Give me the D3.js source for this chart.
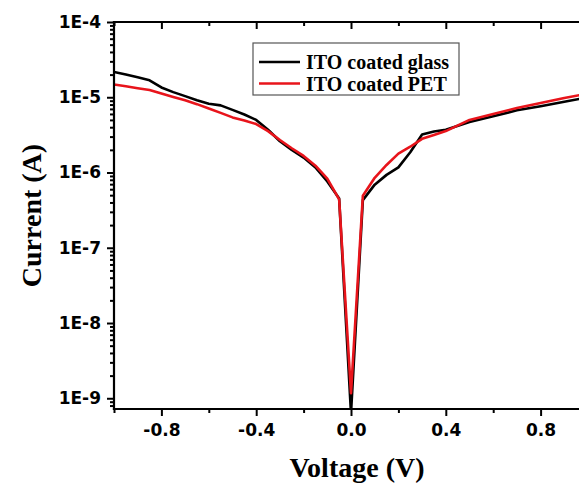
<!DOCTYPE html>
<html>
<head>
<meta charset="utf-8">
<script src="https://cdn.jsdelivr.net/npm/d3@7/dist/d3.min.js"></script>
<style>
  html, body { margin: 0; padding: 0; background: #fff; }
  svg { display: block; }
</style>
</head>
<body>
<script>
// ---- data ----
const voltage = [-1.0,-0.95,-0.9,-0.85,-0.8,-0.75,-0.7,-0.65,-0.6,-0.55,-0.5,-0.45,-0.4,-0.35,-0.3,-0.25,-0.2,-0.15,-0.1,-0.05,0,0.05,0.1,0.15,0.2,0.25,0.3,0.35,0.4,0.5,0.6,0.7,0.8,0.9,1.0];
const glassCurrent = [2.17e-5,2.0e-5,1.84e-5,1.68e-5,1.35e-5,1.17e-5,1.035e-5,9.1e-6,8.2e-6,7.8e-6,6.8e-6,5.9e-6,5.0e-6,3.7e-6,2.6e-6,2.0e-6,1.58e-6,1.17e-6,7.6e-7,4.5e-7,6.3e-10,4.3e-7,6.9e-7,9.3e-7,1.17e-6,1.86e-6,3.2e-6,3.5e-6,3.7e-6,4.7e-6,5.6e-6,6.7e-6,7.6e-6,8.7e-6,1.0e-5];
const petCurrent = [1.48e-5,1.40e-5,1.32e-5,1.245e-5,1.12e-5,1.01e-5,9.1e-6,8.1e-6,7.1e-6,6.2e-6,5.4e-6,4.9e-6,4.4e-6,3.55e-6,2.7e-6,2.1e-6,1.66e-6,1.23e-6,8.3e-7,4.4e-7,1.17e-9,4.9e-7,8.5e-7,1.26e-6,1.78e-6,2.2e-6,2.8e-6,3.15e-6,3.55e-6,5.0e-6,6.0e-6,7.2e-6,8.4e-6,9.8e-6,1.12e-5];
const seriesNames = ["ITO coated glass", "ITO coated PET"];
const seriesColors = ["#000000", "#e8141b"];
const xMajorTicks = [-0.8, -0.4, 0.0, 0.4, 0.8];
const xMinorTicks = [-1.0, -0.6, -0.2, 0.2, 0.6, 1.0];
const yMajorTicks = [1e-9, 1e-8, 1e-7, 1e-6, 1e-5, 1e-4];
const xTitle = "Voltage (V)";
const yTitle = "Current (A)";

// ---- layout ----
const W = 579, H = 486;
const mLeft = 114, mRight = 588, mTop = 22, mBottom = 409;

const svg = d3.select("body").append("svg").attr("width", W).attr("height", H);

const x = d3.scaleLinear().domain([-1, 1]).range([mLeft, mRight]);
const y = d3.scaleLog().domain([7.2e-10, 1e-4]).range([mBottom, mTop]);

// minor log ticks
const yMinorTicks = [];
for (let e = -10; e <= -5; e++) {
  for (let m = 2; m <= 9; m++) {
    const v = m * Math.pow(10, e);
    if (v >= y.domain()[0] && v <= y.domain()[1]) yMinorTicks.push(v);
  }
}

const fmtX = d => d3.format(".1f")(d).replace("−", "-");
const fmtY = d => "1E" + Math.round(Math.log10(d));

const tickFont = "'DejaVu Sans', sans-serif";

// clip
svg.append("defs").append("clipPath").attr("id", "clip")
  .append("rect").attr("x", mLeft).attr("y", mTop - 2).attr("width", mRight - mLeft).attr("height", mBottom - mTop + 2);

// lines
const line = d3.line().x((d, i) => x(voltage[i])).y(d => y(d));
const g = svg.append("g").attr("clip-path", "url(#clip)");
[glassCurrent, petCurrent].forEach((s, k) => {
  g.append("path").datum(s)
    .attr("d", line)
    .attr("fill", "none")
    .attr("stroke", seriesColors[k])
    .attr("stroke-width", 2.6)
    .attr("stroke-linejoin", "round");
});

function styleAxis(sel) {
  sel.select(".domain").remove();
  sel.selectAll(".tick line").attr("stroke", "#000").attr("stroke-width", 2);
}

// bottom axis
const bMajor = svg.append("g").attr("transform", `translate(0,${mBottom})`)
  .call(d3.axisBottom(x).tickValues(xMajorTicks).tickFormat(fmtX).tickSize(7).tickPadding(8));
styleAxis(bMajor);
bMajor.selectAll("text").attr("font-family", tickFont).attr("font-weight", "bold")
  .attr("font-size", "17px").attr("fill", "#000");
const bMinor = svg.append("g").attr("transform", `translate(0,${mBottom})`)
  .call(d3.axisBottom(x).tickValues(xMinorTicks).tickFormat("").tickSize(4));
styleAxis(bMinor);

// top axis (inward ticks)
const tMajor = svg.append("g").attr("transform", `translate(0,${mTop})`)
  .call(d3.axisBottom(x).tickValues(xMajorTicks).tickFormat("").tickSize(7));
styleAxis(tMajor);
const tMinor = svg.append("g").attr("transform", `translate(0,${mTop})`)
  .call(d3.axisBottom(x).tickValues(xMinorTicks).tickFormat("").tickSize(4));
styleAxis(tMinor);

// left axis
const lMajor = svg.append("g").attr("transform", `translate(${mLeft},0)`)
  .call(d3.axisLeft(y).tickValues(yMajorTicks).tickFormat(fmtY).tickSize(7).tickPadding(6));
styleAxis(lMajor);
lMajor.selectAll("text").attr("font-family", tickFont).attr("font-weight", "bold")
  .attr("font-size", "17px").attr("fill", "#000");
const lMinor = svg.append("g").attr("transform", `translate(${mLeft},0)`)
  .call(d3.axisLeft(y).tickValues(yMinorTicks).tickFormat("").tickSize(4));
styleAxis(lMinor);

// axis frame lines
const frame = [[mLeft, mBottom, mRight, mBottom], [mLeft, mTop, mRight, mTop], [mLeft, mTop, mLeft, mBottom], [mRight, mTop, mRight, mBottom]];
frame.forEach(f => {
  svg.append("line").attr("x1", f[0]).attr("y1", f[1]).attr("x2", f[2]).attr("y2", f[3])
    .attr("stroke", "#000").attr("stroke-width", 2.2).attr("stroke-linecap", "square");
});

// axis titles
svg.append("text").attr("x", 357).attr("y", 477)
  .attr("text-anchor", "middle")
  .attr("font-family", "'Liberation Serif', 'Times New Roman', serif")
  .attr("font-weight", "bold").attr("font-size", "28px").attr("fill", "#000")
  .text(xTitle);
svg.append("text")
  .attr("transform", `translate(41,${(mTop + mBottom) / 2}) rotate(-90)`)
  .attr("text-anchor", "middle")
  .attr("font-family", "'Liberation Serif', 'Times New Roman', serif")
  .attr("font-weight", "bold").attr("font-size", "28px").attr("fill", "#000")
  .text(yTitle);

// legend
const lg = svg.append("g");
lg.append("rect").attr("x", 253).attr("y", 43).attr("width", 206).attr("height", 52)
  .attr("fill", "#fff").attr("stroke", "#555").attr("stroke-width", 1.2);
seriesNames.forEach((name, i) => {
  const cy = 62 + i * 21.5;
  lg.append("line").attr("x1", 259).attr("x2", 300).attr("y1", cy).attr("y2", cy)
    .attr("stroke", seriesColors[i]).attr("stroke-width", 2.6);
  lg.append("text").attr("x", 306).attr("y", cy + 7)
    .attr("font-family", "'Liberation Serif', 'Times New Roman', serif")
    .attr("font-weight", "bold").attr("font-size", "20px").attr("fill", "#000")
    .text(name);
});
</script>
</body>
</html>
